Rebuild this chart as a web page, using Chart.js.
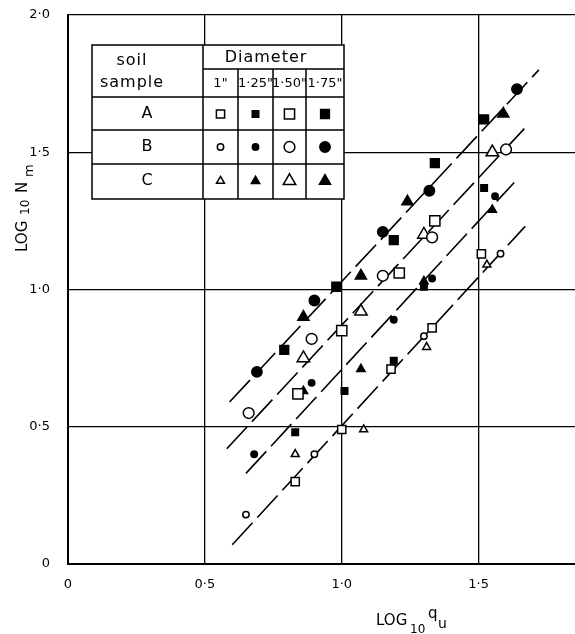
<!DOCTYPE html>
<html>
<head>
<meta charset="utf-8">
<script src="https://cdn.jsdelivr.net/npm/chart.js@4.4.0/dist/chart.umd.min.js"></script>
<style>
html, body { margin: 0; padding: 0; background: #fff; }
#wrap { width: 575px; height: 634px; position: relative; }
</style>
</head>
<body>
<div id="wrap"><canvas id="soil-chart" width="575" height="634"></canvas></div>
<script>
// values: x = log10 qu, y = log10 Nm
var xTicks = [0, 0.5, 1.0, 1.5];
var xTickLabels = ['0', '0·5', '1·0', '1·5'];
var yTicks = [0, 0.5, 1.0, 1.5, 2.0];
var yTickLabels = ['0', '0·5', '1·0', '1·5', '2·0'];

var soils = ['A', 'B', 'C'];
var diameters = ['1"', '1·25"', '1·50"', '1·75"'];

// soil A
var a100 = [[0.83,0.30],[1.00,0.49],[1.18,0.71],[1.33,0.86],[1.51,1.13]];
var a125 = [[0.83,0.48],[1.01,0.63],[1.19,0.74],[1.30,1.01],[1.52,1.37]];
var a150 = [[0.84,0.62],[1.00,0.85],[1.21,1.06],[1.34,1.25]];
var a175 = [[0.79,0.78],[0.98,1.01],[1.19,1.18],[1.34,1.46],[1.52,1.62]];
// soil B
var b100 = [[0.65,0.18],[0.90,0.40],[1.30,0.83],[1.58,1.13]];
var b125 = [[0.68,0.40],[0.89,0.66],[1.19,0.89],[1.33,1.04],[1.56,1.34]];
var b150 = [[0.66,0.55],[0.89,0.82],[1.15,1.05],[1.33,1.19],[1.60,1.51]];
var b175 = [[0.69,0.70],[0.90,0.96],[1.15,1.21],[1.32,1.36],[1.64,1.73]];
// soil C
var c100 = [[0.83,0.40],[1.08,0.49],[1.31,0.79],[1.53,1.09]];
var c125 = [[0.86,0.63],[1.07,0.71],[1.30,1.03],[1.55,1.29]];
var c150 = [[0.86,0.75],[1.07,0.92],[1.30,1.20],[1.55,1.50]];
var c175 = [[0.86,0.90],[1.07,1.05],[1.24,1.32],[1.59,1.64]];

// the four drawn lines (end points)
var line1 = [[0.59,0.59],[1.72,1.80]];
var line2 = [[0.58,0.42],[1.68,1.60]];
var line3 = [[0.65,0.33],[1.63,1.39]];
var line4 = [[0.60,0.07],[1.67,1.23]];

var seriesBySoil = {
    A: [a100, a125, a150, a175],
    B: [b100, b125, b150, b175],
    C: [c100, c125, c150, c175]
};

// marker look per soil / diameter
var markerStyles = {
    A: [{shape:'rect', r:5.8, fill:false}, {shape:'rect', r:4.6, fill:true}, {shape:'rect', r:7.2, fill:false}, {shape:'rect', r:6.2, fill:true}],
    B: [{shape:'circle', r:3.2, fill:false}, {shape:'circle', r:3.2, fill:true}, {shape:'circle', r:5.4, fill:false}, {shape:'circle', r:5.2, fill:true}],
    C: [{shape:'triangle', r:4.6, fill:false}, {shape:'triangle', r:4.8, fill:true}, {shape:'triangle', r:7.2, fill:false}, {shape:'triangle', r:6.4, fill:true}]
};

var FONT = '"DejaVu Sans", sans-serif';

function toXY(pts){
    return pts.map(function(p){ return {x:p[0], y:p[1]}; });
}

var datasets = [];
soils.forEach(function(s){
    seriesBySoil[s].forEach(function(pts, i){
        var st = markerStyles[s][i];
        datasets.push({
            label: s + ' ' + diameters[i],
            data: toXY(pts),
            pointStyle: st.shape,
            pointRadius: st.r,
            pointBorderWidth: 1.5,
            pointBorderColor: '#000',
            pointBackgroundColor: st.fill ? '#000' : '#fff',
            order: 0
        });
    });
});
[line1, line2, line3, line4].forEach(function(l, i){
    datasets.push({
        label: 'line ' + (i+1),
        data: toXY(l),
        showLine: true,
        borderColor: '#000',
        borderWidth: 1.6,
        borderDash: [30, 7],
        pointRadius: 0,
        fill: false,
        order: 1
    });
});

// axis titles with subscripts: [text, dx, dy, size]
var xTitleParts = [['LOG', 0, 0, 15], ['10', 34, 8, 12], ['q', 52, -7, 15], ['u', 62, 3, 14]];
var yTitleParts = [['LOG', 0, 0, 15], ['10', 37, 2, 12], ['N', 59, 0, 15], ['m', 75, 6, 13]];

function drawParts(ctx, parts){
    parts.forEach(function(p){
        ctx.font = p[3] + 'px ' + FONT;
        ctx.fillText(p[0], p[1], p[2]);
    });
}

var titlesPlugin = {
    id: 'axisTitles',
    afterDraw: function(chart){
        var ctx = chart.ctx;
        ctx.save();
        ctx.fillStyle = '#000';
        ctx.textAlign = 'left';
        ctx.textBaseline = 'alphabetic';
        ctx.translate(376, 625);
        drawParts(ctx, xTitleParts);
        ctx.restore();

        ctx.save();
        ctx.fillStyle = '#000';
        ctx.translate(27, 252);
        ctx.rotate(-Math.PI / 2);
        drawParts(ctx, yTitleParts);
        ctx.restore();
    }
};

// legend table in the top left corner
var legendPlugin = {
    id: 'legendTable',
    afterDraw: function(chart){
        var ctx = chart.ctx;
        var L = 92, T = 45, R = 344, B = 199;
        var cols = [203, 238, 273, 306];
        var rows = [69, 97, 130, 164];
        ctx.save();
        ctx.fillStyle = '#fff';
        ctx.fillRect(L, T, R - L, B - T);
        ctx.strokeStyle = '#000';
        ctx.lineWidth = 1.5;
        ctx.strokeRect(L, T, R - L, B - T);
        ctx.beginPath();
        ctx.moveTo(cols[0], T); ctx.lineTo(cols[0], B);
        for(var i=1;i<cols.length;i++){
            ctx.moveTo(cols[i], rows[0]); ctx.lineTo(cols[i], B);
        }
        ctx.moveTo(cols[0], rows[0]); ctx.lineTo(R, rows[0]);
        for(var j=1;j<rows.length;j++){
            ctx.moveTo(L, rows[j]); ctx.lineTo(R, rows[j]);
        }
        ctx.stroke();

        ctx.fillStyle = '#000';
        ctx.textAlign = 'center';
        ctx.textBaseline = 'middle';
        if('letterSpacing' in ctx) ctx.letterSpacing = '1px';
        ctx.font = '16px ' + FONT;
        ctx.fillText('soil', 132, 61);
        ctx.fillText('sample', 132, 83);
        ctx.fillText('Diameter', 266, 58);
        if('letterSpacing' in ctx) ctx.letterSpacing = '0px';
        ctx.font = '13px ' + FONT;
        var centers = [220.5, 255.5, 289.5, 325];
        diameters.forEach(function(d, i){
            ctx.fillText(d, centers[i], 84);
        });
        ctx.font = '16px ' + FONT;
        var rowMid = [114, 147, 181];
        soils.forEach(function(s, r){
            ctx.fillStyle = '#000';
            ctx.fillText(s, 147, rowMid[r]);
            markerStyles[s].forEach(function(st, i){
                ctx.fillStyle = st.fill ? '#000' : '#fff';
                ctx.strokeStyle = '#000';
                ctx.lineWidth = 1.5;
                Chart.helpers.drawPoint(ctx, {pointStyle: st.shape, radius: st.r, rotation: 0, borderWidth: 1.5}, centers[i], rowMid[r]);
            });
        });
        ctx.restore();
    }
};

function tickLabel(ticks, labels){
    return function(v){
        var k = ticks.indexOf(v);
        return k < 0 ? '' : labels[k];
    };
}

new Chart(document.getElementById('soil-chart'), {
    type: 'scatter',
    data: { datasets: datasets },
    plugins: [titlesPlugin, legendPlugin],
    options: {
        responsive: false,
        animation: false,
        devicePixelRatio: 1,
        events: [],
        layout: { autoPadding: false, padding: { top: 15, right: 0, left: 0, bottom: 0 } },
        plugins: { legend: { display: false }, tooltip: { enabled: false } },
        scales: {
            x: {
                type: 'linear', min: 0, max: 1.852,
                afterBuildTicks: function(sc){ sc.ticks = xTicks.map(function(v){ return {value: v}; }); },
                afterFit: function(sc){ sc.height = 70; sc.paddingLeft = 0; sc.paddingRight = 0; },
                grid: { color: '#000', lineWidth: 1.3, drawTicks: false },
                border: { color: '#000', width: 2 },
                ticks: { padding: 13, color: '#000', maxRotation: 0, autoSkip: false,
                         font: { family: FONT, size: 13 }, callback: tickLabel(xTicks, xTickLabels) }
            },
            y: {
                type: 'linear', min: 0, max: 2,
                afterBuildTicks: function(sc){ sc.ticks = yTicks.map(function(v){ return {value: v}; }); },
                afterFit: function(sc){ sc.width = 68; sc.paddingTop = 0; sc.paddingBottom = 0; },
                grid: { color: '#000', lineWidth: 1.3, drawTicks: false },
                border: { color: '#000', width: 2 },
                ticks: { padding: 18, color: '#000', autoSkip: false,
                         font: { family: FONT, size: 13 }, callback: tickLabel(yTicks, yTickLabels) }
            }
        }
    }
});
</script>
</body>
</html>
